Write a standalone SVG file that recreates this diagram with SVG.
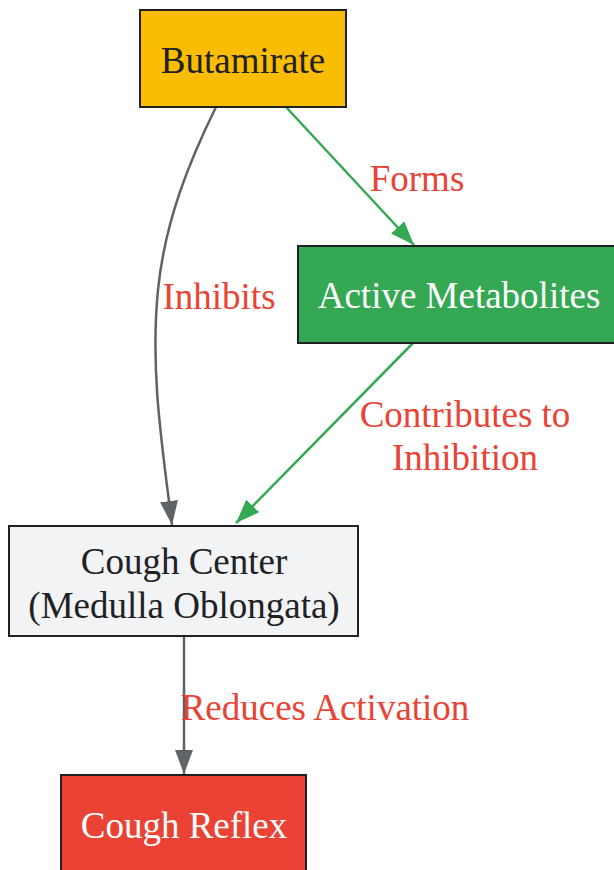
<svg xmlns="http://www.w3.org/2000/svg" width="614" height="870" viewBox="0 0 614 870">
<style>
.node rect{stroke:#202124;stroke-width:2}
text{font-family:"Liberation Serif","Times New Roman",serif;font-size:37px;text-anchor:middle}
.dark{fill:#202124}
.light{fill:#ffffff}
.lbl{fill:#ea4335}
.e{fill:none;stroke-width:2.5}
.gray{stroke:#5f6368}
.green{stroke:#34a853}
</style>
<defs>
<marker id="ag" markerUnits="userSpaceOnUse" markerWidth="26" markerHeight="20" refX="24" refY="9" orient="auto">
<path d="M0,0 L24,9 L0,18 z" fill="#5f6368"/>
</marker>
<marker id="agr" markerUnits="userSpaceOnUse" markerWidth="26" markerHeight="20" refX="24" refY="9" orient="auto">
<path d="M0,0 L24,9 L0,18 z" fill="#34a853"/>
</marker>
</defs>
<rect width="614" height="870" fill="#ffffff"/>
<g id="edges">
<path class="e gray" d="M216,107 C190,160 165,220 158,290 C150,370 162,445 172,525" marker-end="url(#ag)"/>
<path class="e green" d="M286,107 L414,245" marker-end="url(#agr)"/>
<path class="e green" d="M413,343 L236,523" marker-end="url(#agr)"/>
<path class="e gray" d="M184,636 L184,774" marker-end="url(#ag)"/>
<text class="lbl" x="417" y="191">Forms</text>
<text class="lbl" x="219" y="309">Inhibits</text>
<text class="lbl" x="465" y="427">Contributes to</text>
<text class="lbl" x="465" y="470">Inhibition</text>
<text class="lbl" x="325" y="720">Reduces Activation</text>
</g>
<g id="butamirate" class="node">
<rect x="140" y="10" width="206" height="97" fill="#fbbc04"/>
<text class="dark" x="243" y="73">Butamirate</text>
</g>
<g id="metabolites" class="node">
<rect x="298" y="246" width="320" height="97" fill="#34a853"/>
<text class="light" x="459" y="308">Active Metabolites</text>
</g>
<g id="coughcenter" class="node">
<rect x="9" y="526" width="349" height="110" fill="#f1f3f4"/>
<text class="dark" x="184" y="574">Cough Center</text>
<text class="dark" x="184" y="618">(Medulla Oblongata)</text>
</g>
<g id="coughreflex" class="node">
<rect x="61" y="775" width="245" height="100" fill="#ea4335"/>
<text class="light" x="184" y="838">Cough Reflex</text>
</g>
</svg>
